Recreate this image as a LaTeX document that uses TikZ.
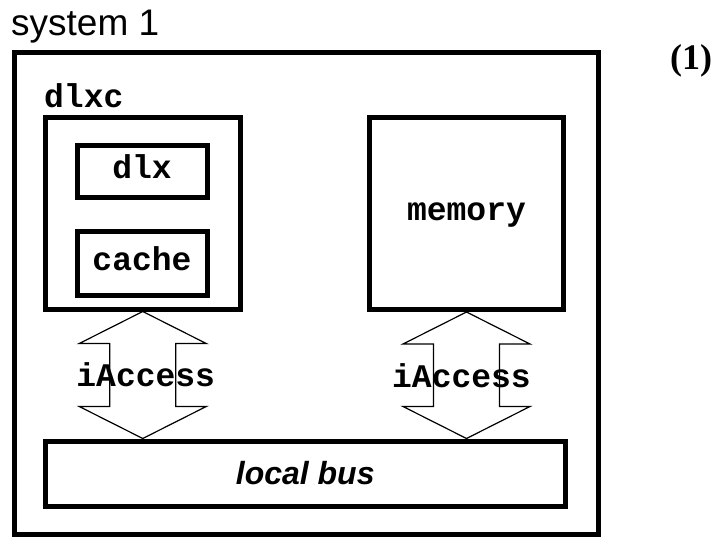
\documentclass[tikz,border=0pt]{standalone}
\usepackage{fontspec}
\setmainfont{Liberation Sans}
\newfontfamily\courf{Liberation Mono}
\newfontfamily\timesf{Liberation Serif}
\usetikzlibrary{calc}
\newcommand\dblarrow[2]{%
  \draw[accline] (#1) -- ($(#1)+(-63.5,32)$) -- ($(#1)+(-33,32)$)
    -- ($(#2)+(-33,-32)$) -- ($(#2)+(-63.5,-32)$) -- (#2)
    -- ($(#2)+(63.5,-32)$) -- ($(#2)+(33,-32)$) -- ($(#1)+(33,32)$)
    -- ($(#1)+(63.5,32)$) -- cycle;}
\begin{document}
\begin{tikzpicture}[x=1bp,y=-1bp,
  box/.style={draw, line width=5bp, inner sep=0pt, rectangle},
  mono/.style={font=\courf\bfseries\fontsize{33bp}{36bp}\selectfont},
  boxtext/.style={mono, text height=14bp, text depth=0pt},
  accline/.style={draw, line width=1.2bp, line join=miter},
  ]
\useasboundingbox (0,0) rectangle (717,539);
\node[box, minimum width=583.5bp, minimum height=482bp] (sys) at (306.25,293.5) {};
\node[box, minimum width=194.5bp, minimum height=191bp] (dlxc) at (142.75,213.5) {};
\node[box, boxtext, minimum width=130bp, minimum height=52bp] (dlx) at (142,172) {dlx};
\node[box, boxtext, minimum width=130bp, minimum height=63bp] (cache) at (142,263.5) {cache};
\node[box, boxtext, minimum width=194bp, minimum height=192bp] (memory) at (466.5,213.5) {memory};
\node[box, minimum width=519.5bp, minimum height=65bp,
      font=\bfseries\itshape\fontsize{32bp}{36bp}\selectfont] (bus) at (305.25,473.5) {local bus};
\node[anchor=base west, inner sep=0pt, font=\fontsize{37bp}{42bp}\selectfont] (title) at (11,36) {system 1};
\node[anchor=base west, inner sep=0pt, mono] (dlxclabel) at (44,108) {dlxc};
\node[inner sep=0pt, font=\timesf\bfseries\fontsize{36bp}{40bp}\selectfont] (num) at (691,61) {(1)};
\coordinate (a1t) at (dlxc.south);
\coordinate (a1b) at (a1t |- bus.north);
\coordinate (a2t) at (memory.south);
\coordinate (a2b) at (a2t |- bus.north);
\dblarrow{a1t}{a1b}
\dblarrow{a2t}{a2b}
\node[mono, inner sep=0pt] (acc1) at ($(a1t)!0.5!(a1b)+(3,0)$) {iAccess};
\node[mono, inner sep=0pt] (acc2) at ($(a2t)!0.5!(a2b)+(-5,0)$) {iAccess};
\end{tikzpicture}
\end{document}
